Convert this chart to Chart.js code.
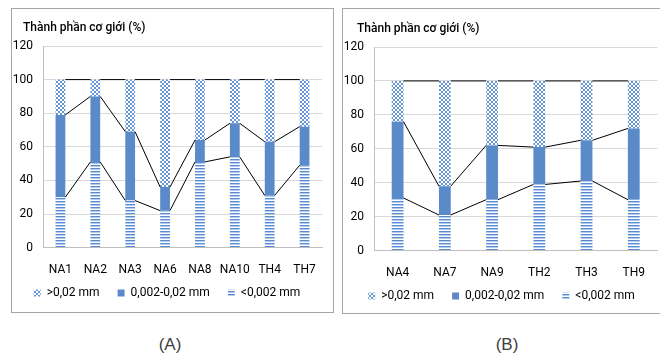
<!DOCTYPE html>
<html>
<head>
<meta charset="utf-8">
<script src="https://cdn.jsdelivr.net/npm/chart.js@4.4.1/dist/chart.umd.min.js"></script>
<style>
  body { margin: 0; background: #fff; width: 660px; height: 354px; position: relative; overflow: hidden; font-family: Roboto, sans-serif; }
  .panel { position: absolute; border: 1px solid #a6a6a6; box-sizing: border-box; }
  .title { position: absolute; font-size: 12px; font-weight: 500; color: #000; white-space: nowrap; line-height: 14px; }
  .tag { position: absolute; width: 60px; text-align: center; font: 17px "Liberation Sans", sans-serif; color: #404040; line-height: 20px; }
  canvas { position: absolute; }
</style>
</head>
<body>
<div class="panel" style="left:11px;top:8px;width:323px;height:305px"></div>
<div class="panel" style="left:342px;top:8px;width:330px;height:306px"></div>
<canvas id="chartA" width="320" height="302" style="left:12px;top:9px"></canvas>
<canvas id="chartB" width="317" height="303" style="left:343px;top:9px"></canvas>
<div class="title" style="left:23px;top:20px">Thành phần cơ giới (%)</div>
<div class="title" style="left:357px;top:21px">Thành phần cơ giới (%)</div>
<div class="tag" style="left:140px;top:335px">(A)</div>
<div class="tag" style="left:477px;top:335px">(B)</div>
<script>
// series: <0,002 mm (bottom), 0,002-0,02 mm, >0,02 mm (top)
const seriesLabels = ["<0,002 mm", "0,002-0,02 mm", ">0,02 mm"];
const yTicks = [0, 20, 40, 60, 80, 100, 120];

const categoriesA = ["NA1", "NA2", "NA3", "NA6", "NA8", "NA10", "TH4", "TH7"];
const clayA = [30, 51, 28, 22, 51, 54, 31, 49];
const siltA = [49, 39, 41, 14, 13, 20, 32, 23];
const sandA = [21, 10, 31, 64, 36, 26, 37, 28];

const categoriesB = ["NA4", "NA7", "NA9", "TH2", "TH3", "TH9"];
const clayB = [31, 21, 30, 39, 41, 30];
const siltB = [45, 17, 32, 22, 24, 42];
const sandB = [24, 62, 38, 39, 35, 28];

const blue = "#5a8ac8";
const tickFont = { family: "Roboto", size: 12 };

// patrones de relleno tipo Excel
function makePattern(ctx, w, h, draw) {
    const c = document.createElement("canvas");
    c.width = w;
    c.height = h;
    const g = c.getContext("2d");
    g.fillStyle = "#fff";
    g.fillRect(0, 0, w, h);
    draw(g);
    return ctx.createPattern(c, "repeat");
}

function checker(ctx) {
    return makePattern(ctx, 4, 4, (g) => {
        g.fillStyle = "#6494d2";
        g.fillRect(0, 0, 2, 2);
        g.fillRect(2, 2, 2, 2);
    });
}

function stripes(ctx) {
    return makePattern(ctx, 4, 3, (g) => {
        g.fillStyle = "#5a8ad0";
        g.fillRect(0, 0, 4, 1);
        g.fillStyle = "#b3cbec";
        g.fillRect(0, 1, 4, 1);
    });
}

// lineas de serie entre barras apiladas
const seriesLines = {
    id: "seriesLines",
    afterDatasetsDraw(chart) {
        const ctx = chart.ctx;
        ctx.save();
        ctx.strokeStyle = "#000";
        ctx.lineWidth = 1;
        chart.data.datasets.forEach((ds, i) => {
            const bars = chart.getDatasetMeta(i).data;
            ctx.beginPath();
            for (let j = 0; j < bars.length - 1; j++) {
                const a = bars[j];
                const b = bars[j + 1];
                ctx.moveTo(a.x + a.width / 2, a.y);
                ctx.lineTo(b.x - b.width / 2, b.y);
            }
            ctx.stroke();
        });
        ctx.restore();
    },
};

// sube la leyenda para pegarla a las etiquetas del eje x
const legendShift = {
    id: "legendShift",
    afterLayout(chart, args, opts) {
        const lg = chart.legend;
        if (!lg) return;
        lg.top -= opts.dy;
        lg.bottom -= opts.dy;
    },
};

function createChart(id, labels, clay, silt, sand, barPct, padding, dy) {
    const canvas = document.getElementById(id);
    const ctx = canvas.getContext("2d");
    const fills = [stripes(ctx), blue, checker(ctx)];
    const values = [clay, silt, sand];
    return new Chart(canvas, {
        type: "bar",
        data: {
            labels,
            datasets: values.map((data, i) => ({
                label: seriesLabels[i],
                data,
                backgroundColor: fills[i],
                borderWidth: 0,
                barPercentage: barPct,
                categoryPercentage: 1,
            })),
        },
        options: {
            responsive: false,
            animation: false,
            layout: { padding },
            plugins: {
                legend: {
                    position: "bottom",
                    reverse: true,
                    labels: {
                        boxWidth: 7,
                        boxHeight: 7,
                        padding: 18,
                        color: "#000",
                        font: tickFont,
                    },
                },
                legendShift: { dy },
                tooltip: { enabled: false },
            },
            scales: {
                x: {
                    stacked: true,
                    grid: { color: "rgba(0,0,0,0)", drawTicks: false },
                    border: { color: "#bfbfbf" },
                    ticks: { padding: 15, color: "#000", font: tickFont, maxRotation: 0, autoSkip: false },
                },
                y: {
                    stacked: true,
                    min: 0,
                    max: 120,
                    grid: { color: "#d9d9d9", drawTicks: false },
                    border: { color: "#bfbfbf" },
                    ticks: { padding: 10, color: "#000", font: tickFont },
                    afterBuildTicks: (s) => { s.ticks = yTicks.map((v) => ({ value: v })); },
                    afterFit: (s) => { s.width = 31; },
                },
            },
        },
        plugins: [seriesLines, legendShift],
    });
}

createChart("chartA", categoriesA, clayA, siltA, sandA, 0.28,
    { top: 37, right: 10, bottom: -21, left: 0 }, 23);
createChart("chartB", categoriesB, clayB, siltB, sandB, 0.25,
    { top: 38, right: 0, bottom: -23, left: 0 }, 23);
</script>
</body>
</html>
